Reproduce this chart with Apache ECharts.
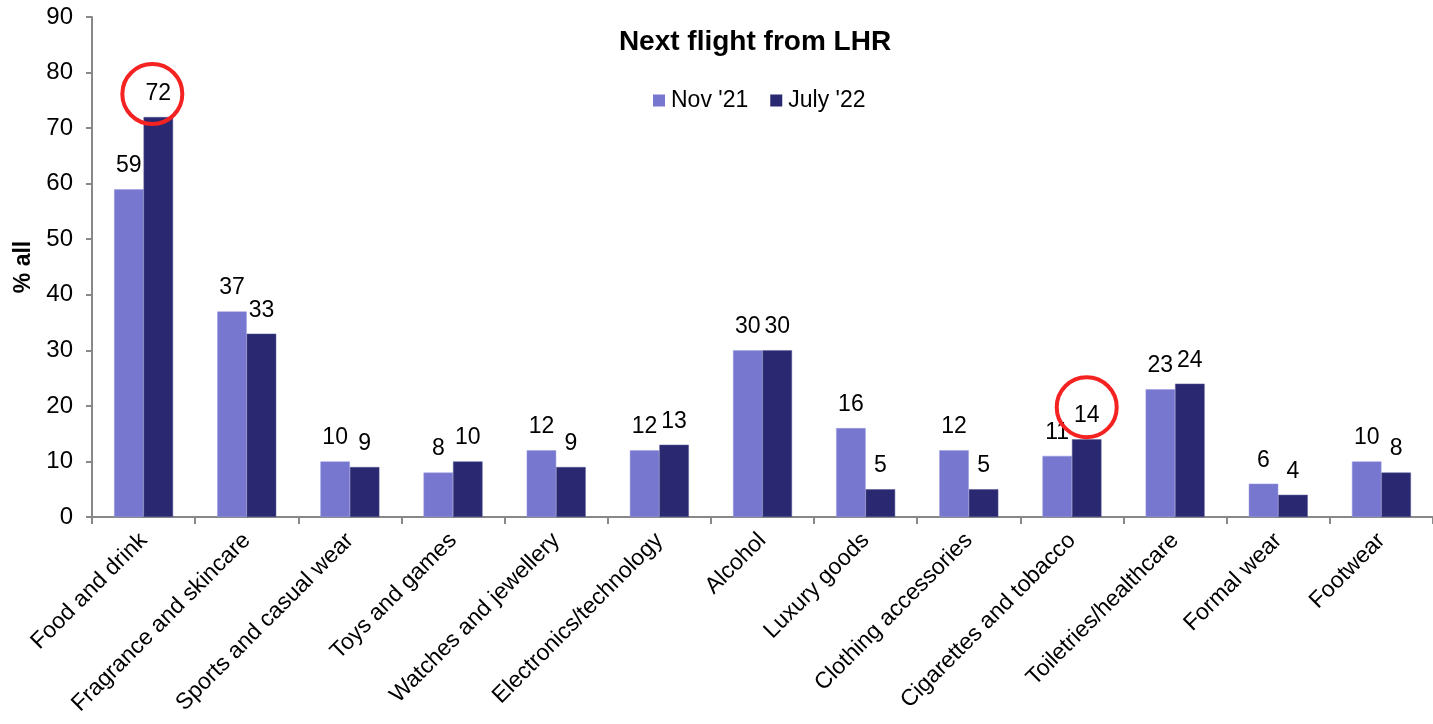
<!DOCTYPE html>
<html>
<head>
<meta charset="utf-8">
<script src="https://cdn.jsdelivr.net/npm/echarts@6/dist/echarts.min.js"></script>
<style>
html,body{margin:0;padding:0;background:#fff;}
#chart{width:1433px;height:724px;}
</style>
</head>
<body>
<div id="chart"></div>
<script>
const categories = ['Food and drink','Fragrance and skincare','Sports and casual wear','Toys and games','Watches and jewellery','Electronics/technology','Alcohol','Luxury goods','Clothing accessories','Cigarettes and tobacco','Toiletries/healthcare','Formal wear','Footwear'];
const nov21 = [59,37,10,8,12,12,30,16,12,11,23,6,10];
const july22 = [72,33,9,10,9,13,30,5,5,14,24,4,8];
const seriesNames = ["Nov '21", "July '22"];
const yTicks = {min:0, max:90, interval:10};
const highlighted = [{cat:'Food and drink', val:72}, {cat:'Cigarettes and tobacco', val:14}];

const FONT = '"Liberation Sans", Arial, sans-serif';
const chart = echarts.init(document.getElementById('chart'), null, {renderer:'canvas'});
const labelStyle = {show:true, position:'top', distance:12, color:'#000', fontSize:23, fontFamily:FONT};
chart.setOption({
  animation:false,
  title:{text:'Next flight from LHR', left:750, textAlign:'center', top:23,
    textStyle:{fontFamily:FONT, fontWeight:'bold', fontSize:28, color:'#000'}},
  legend:{top:84, left:648, itemWidth:12, itemHeight:12, itemGap:22,
    textStyle:{fontFamily:FONT, fontSize:23, color:'#000', padding:[0,0,0,1]}, icon:'rect', itemStyle:{borderWidth:0}},
  grid:{left:92, top:17, height:500, width:1344},
  xAxis:{type:'category', data:categories,
    axisLine:{lineStyle:{color:'#888', width:2}},
    axisTick:{show:true, length:7, lineStyle:{color:'#888', width:2}},
    axisLabel:{rotate:45, fontFamily:FONT, fontSize:23, color:'#000', margin:20, interval:0}},
  yAxis:{type:'value', min:yTicks.min, max:yTicks.max, interval:yTicks.interval,
    name:'% all', nameLocation:'middle', nameGap:56, nameRotate:90,
    nameTextStyle:{fontFamily:FONT, fontWeight:'bold', fontSize:23, color:'#000'},
    axisLine:{show:true, lineStyle:{color:'#888', width:2}},
    axisTick:{show:true, length:6, lineStyle:{color:'#888', width:2}},
    splitLine:{show:false},
    axisLabel:{fontFamily:FONT, fontSize:24, color:'#000', margin:19}},
  series:[
    {name:seriesNames[0], type:'bar', data:nov21, barWidth:29.5, barGap:'0%',
      itemStyle:{color:'#7877D0', borderColor:'#9a9ae0', borderWidth:0.5}, label:labelStyle},
    {name:seriesNames[1], type:'bar', data:july22, barWidth:29.5, barGap:'0%',
      itemStyle:{color:'#292870', borderColor:'#5a5a99', borderWidth:0.5}, label:labelStyle,
      markPoint:{symbol:'circle', symbolSize:60, silent:true, label:{show:false},
        itemStyle:{color:'rgba(0,0,0,0)', borderColor:'#F52222', borderWidth:4},
        data:[
          {coord:[highlighted[0].cat, highlighted[0].val], symbolOffset:[-6,-23]},
          {coord:[highlighted[1].cat, highlighted[1].val], symbolOffset:[0,-32]}
        ]}}
  ]
});
</script>
</body>
</html>
